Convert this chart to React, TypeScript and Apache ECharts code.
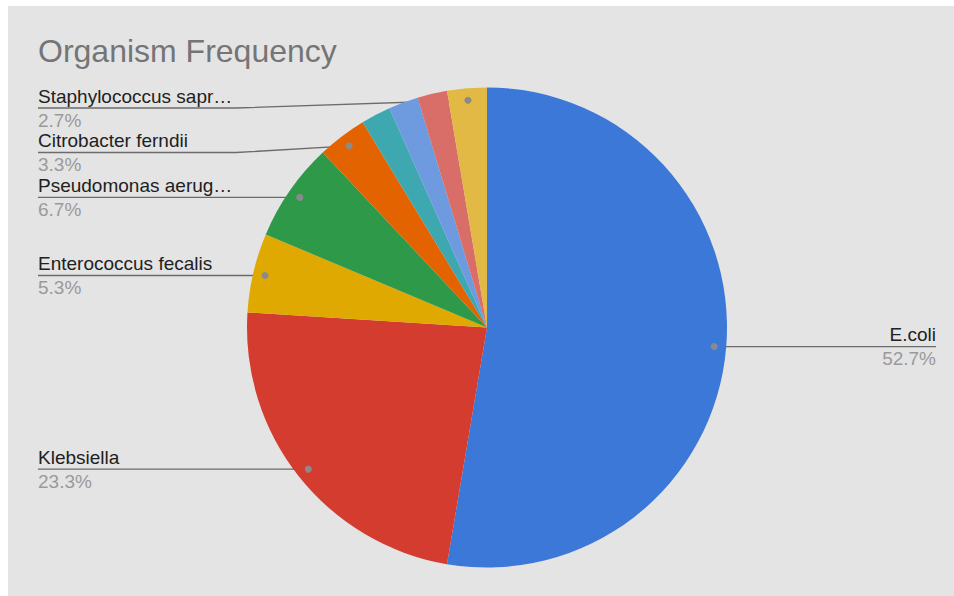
import React, { useEffect, useRef } from 'react';
import * as echarts from 'echarts';

// ---- data ----
const titleText = 'Organism Frequency';
const organisms = [
  'E.coli',
  'Klebsiella',
  'Enterococcus fecalis',
  'Pseudomonas aeruginosa',
  'Citrobacter ferndii',
  'Proteus mirabilis',
  'Acinetobacter baumannii',
  'Staphylococcus aureus',
  'Staphylococcus saprophyticus',
];
const counts = [79, 35, 8, 10, 5, 3, 3, 3, 4];
const showLabel = [true, true, true, true, true, false, false, false, true];
const sliceColors = ['#3c78d8', '#d33c2f', '#e0a902', '#2f994a', '#e36300', '#3ea8b0', '#6e9ae0', '#d86e67', '#e2b944'];

// ---- layout ----
const W = 946;
const H = 590;
const CX = 479;
const CY = 321.5;
const R = 240;
const DOT_R = R * 0.95;
const LEFT_X = 30;
const RIGHT_X = 928;
const BEND_LEFT = 228;
const BEND_RIGHT = 730;
const MIN_Y = 102;
const GAP = 44.5;
const FONT = '"Liberation Sans", Arial, sans-serif';
const LABEL_SIZE = 19;
const NAME_MAX_W = 198;

function computeLayout() {
  const total = counts.reduce((a, b) => a + b, 0);
  let cum = 0;
  const dots = counts.map((c) => {
    const a = ((cum + c / 2) / total) * Math.PI * 2;
    cum += c;
    return [CX + DOT_R * Math.sin(a), CY - DOT_R * Math.cos(a)];
  });
  const labelY: number[] = dots.map((d) => d[1]);
  const leftIdx = dots
    .map((d, i) => i)
    .filter((i) => showLabel[i] && dots[i][0] < CX)
    .sort((a, b) => dots[a][1] - dots[b][1]);
  let prev = -Infinity;
  leftIdx.forEach((i) => {
    const y = Math.max(dots[i][1], prev + GAP, MIN_Y);
    labelY[i] = y;
    prev = y;
  });
  return { dots, labelY };
}

function truncate(name: string) {
  const fmt: any = (echarts as any).format;
  if (fmt && typeof fmt.truncateText === 'function') {
    return fmt.truncateText(name, NAME_MAX_W, `${LABEL_SIZE}px ${FONT}`, '…');
  }
  return name;
}

export default function App() {
  const ref = useRef<HTMLDivElement>(null);
  useEffect(() => {
    const chart = echarts.init(ref.current!, null, { renderer: 'svg' });
    const { dots, labelY } = computeLayout();
    const option: any = {
      animation: false,
      backgroundColor: '#e4e4e4',
      color: sliceColors,
      title: {
        text: titleText,
        left: LEFT_X,
        top: 29,
        padding: 0,
        textStyle: { fontFamily: FONT, fontSize: 32, fontWeight: 'normal', color: '#757575', lineHeight: 32 },
      },
      series: [
        {
          type: 'pie',
          center: [CX, CY],
          radius: R,
          startAngle: 90,
          clockwise: true,
          percentPrecision: 1,
          emphasis: { disabled: true },
          itemStyle: { borderWidth: 0 },
          data: organisms.map((n, i) => ({
            name: n,
            value: counts[i],
            label: { show: showLabel[i] },
            labelLine: { show: showLabel[i] },
          })),
          label: {
            show: true,
            position: 'outside',
            fontFamily: FONT,
            formatter: (p: any) => `{n|${truncate(p.name)}}\n{p|${p.percent}%}`,
            rich: {
              n: { fontFamily: FONT, fontSize: LABEL_SIZE, color: '#212121', lineHeight: 24 },
              p: { fontFamily: FONT, fontSize: LABEL_SIZE, color: '#9a9a9a', lineHeight: 24 },
            },
          },
          labelLine: { show: true, smooth: false, lineStyle: { color: '#6b6b6b', width: 1.4 } },
          labelLayout: (params: any) => {
            const i = params.dataIndex;
            if (!showLabel[i]) return {};
            const [dx, dy] = dots[i];
            const left = dx < CX;
            const ly = labelY[i];
            const ex = left ? LEFT_X : RIGHT_X;
            return {
              x: ex,
              y: ly,
              align: left ? 'left' : 'right',
              verticalAlign: 'middle',
              labelLinePoints: [
                [dx, dy],
                [left ? BEND_LEFT : BEND_RIGHT, ly],
                [ex, ly],
              ],
            };
          },
        },
      ],
      graphic: dots
        .map((d, i) => ({ d, i }))
        .filter(({ i }) => showLabel[i])
        .map(({ d }) => ({
          type: 'circle',
          z: 100,
          shape: { cx: d[0], cy: d[1], r: 3.5 },
          style: { fill: '#8a8a8a' },
        })),
    };
    chart.setOption(option);
    return () => chart.dispose();
  }, []);
  return <div ref={ref} style={{ position: 'absolute', left: 8, top: 6, width: W, height: H }} />;
}
